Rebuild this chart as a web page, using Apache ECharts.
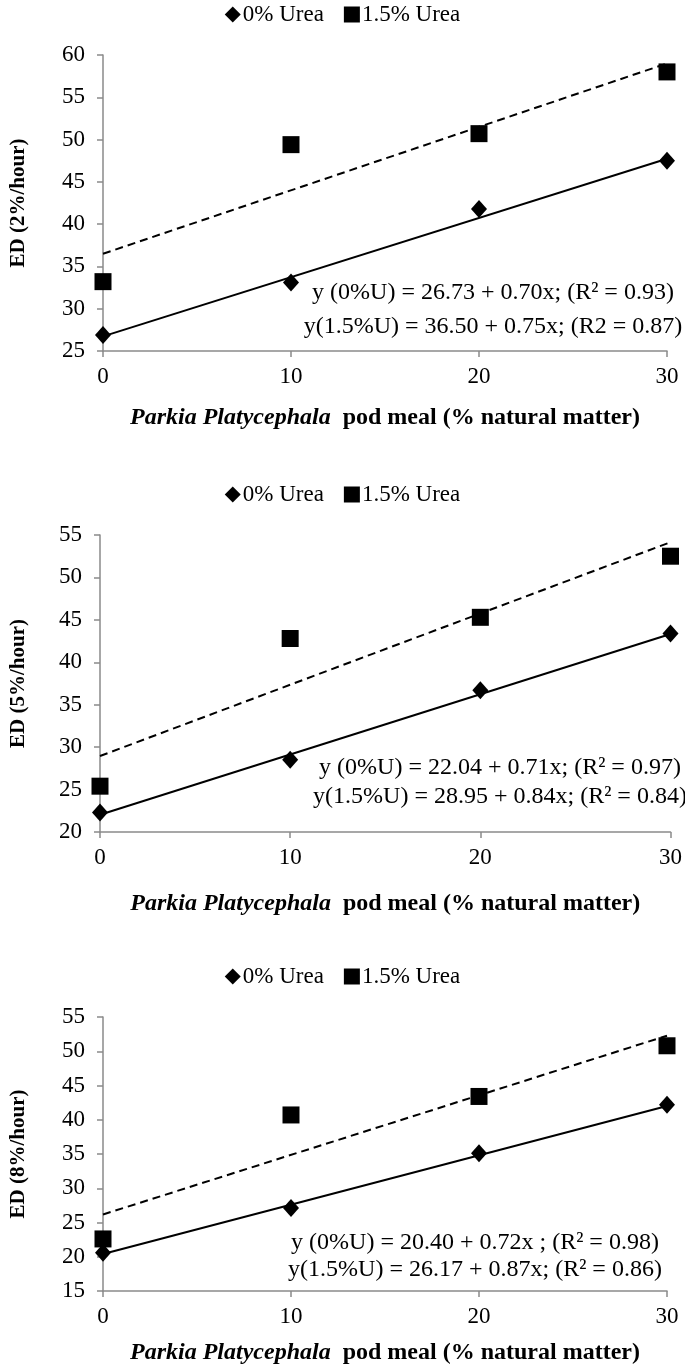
<!DOCTYPE html>
<html>
<head>
<meta charset="utf-8">
<script src="https://cdn.jsdelivr.net/npm/echarts@6/dist/echarts.min.js"></script>
<style>
  html, body { margin: 0; padding: 0; background: #fff; }
  #chart { width: 685px; height: 1367px; }
</style>
</head>
<body>
<div id="chart"></div>
<script>
// x values (% PPPM) shared by all three panels
const doses = [0, 10, 20, 30];

// ED at 2%/hour
const ed2_urea0 = [26.9, 33.1, 41.8, 47.5];
const ed2_urea15 = [33.2, 49.4, 50.7, 58.0];
// ED at 5%/hour
const ed5_urea0 = [22.3, 28.5, 36.7, 43.4];
const ed5_urea15 = [25.4, 42.8, 45.3, 52.5];
// ED at 8%/hour
const ed8_urea0 = [20.6, 27.1, 35.1, 42.2];
const ed8_urea15 = [22.6, 40.7, 43.4, 50.8];

// trend line end points (x = 0 and x = 30), from the printed equations
const fitEnds = [0, 30];
const fit2_urea0 = [26.73, 47.73];
const fit2_urea15 = [36.50, 59.00];
const fit5_urea0 = [22.04, 43.34];
const fit5_urea15 = [28.95, 54.15];
const fit8_urea0 = [20.40, 42.00];
const fit8_urea15 = [26.17, 52.27];

const yMins = [25, 20, 15];
const yMaxs = [60, 55, 55];
const yNames = ['ED (2%/hour)', 'ED (5%/hour)', 'ED (8%/hour)'];
const legendNames = ['0% Urea', '1.5% Urea'];
const equations = [
  ['y (0%U) = 26.73 + 0.70x; (R² = 0.93)', 'y(1.5%U) = 36.50 + 0.75x; (R2 = 0.87)'],
  ['y (0%U) = 22.04 + 0.71x; (R² = 0.97)', 'y(1.5%U) = 28.95 + 0.84x; (R² = 0.84)'],
  ['y (0%U) = 20.40 + 0.72x ; (R² = 0.98)', 'y(1.5%U) = 26.17 + 0.87x; (R² = 0.86)']
];

const FONT = '"Liberation Serif", "Times New Roman", serif';
const AXIS_GREY = '#8a8a8a';

const pts = (xs, ys) => xs.map((x, i) => [x, ys[i]]);

const panels = [
  { grid: { left: 85, right: 18, top: 55, height: 296 }, legendTop: -2, nameGap: 74, xNameGap: 55,
    u0: ed2_urea0, u15: ed2_urea15, f0: fit2_urea0, f15: fit2_urea15, eqX: 493, eqY: [293, 327] },
  { grid: { left: 81, right: 14, top: 535, height: 297 }, legendTop: 478, nameGap: 71, xNameGap: 60,
    u0: ed5_urea0, u15: ed5_urea15, f0: fit5_urea0, f15: fit5_urea15, eqX: 500, eqY: [768, 797] },
  { grid: { left: 86, right: 18, top: 1017, height: 274 }, legendTop: 960, nameGap: 74, xNameGap: 50,
    u0: ed8_urea0, u15: ed8_urea15, f0: fit8_urea0, f15: fit8_urea15, eqX: 475, eqY: [1243, 1270] }
];

const chart = echarts.init(document.getElementById('chart'), null, { renderer: 'canvas' });

const option = {
  backgroundColor: '#fff',
  animation: false,
  textStyle: { fontFamily: FONT, color: '#000' },
  grid: panels.map(p => p.grid),
  legend: panels.map(p => ({
    data: legendNames,
    top: p.legendTop,
    left: 'center',
    itemWidth: 16,
    itemHeight: 16,
    itemGap: 20,
    textStyle: { fontFamily: FONT, fontSize: 23, color: '#000', padding: [0, 0, 0, -3] }
  })),
  xAxis: panels.map((p, i) => ({
    gridIndex: i,
    type: 'value',
    min: 0,
    max: 30,
    interval: 10,
    name: '{i|Parkia Platycephala}  pod meal (% natural matter)',
    nameLocation: 'middle',
    nameGap: p.xNameGap,
    nameTextStyle: {
      fontFamily: FONT, fontSize: 24, fontWeight: 'bold', color: '#000',
      rich: { i: { fontFamily: FONT, fontSize: 24, fontWeight: 'bold', fontStyle: 'italic', color: '#000' } }
    },
    axisLine: { lineStyle: { color: AXIS_GREY, width: 1.5 } },
    axisTick: { show: true, length: 6, lineStyle: { color: AXIS_GREY, width: 1.5 } },
    axisLabel: { fontFamily: FONT, fontSize: 23, color: '#000', margin: 14 },
    splitLine: { show: false }
  })),
  yAxis: panels.map((p, i) => ({
    gridIndex: i,
    type: 'value',
    min: yMins[i],
    max: yMaxs[i],
    interval: 5,
    name: yNames[i],
    nameLocation: 'middle',
    nameRotate: 90,
    nameGap: p.nameGap,
    nameTextStyle: { fontFamily: FONT, fontSize: 21, fontWeight: 'bold', color: '#000' },
    axisLine: { show: true, lineStyle: { color: AXIS_GREY, width: 1.5 } },
    axisTick: { show: true, length: 6, lineStyle: { color: AXIS_GREY, width: 1.5 } },
    axisLabel: { fontFamily: FONT, fontSize: 23, color: '#000', margin: 18 },
    splitLine: { show: false }
  })),
  series: panels.flatMap((p, i) => [
    {
      name: 'fit0', type: 'line', xAxisIndex: i, yAxisIndex: i,
      data: pts(fitEnds, p.f0), symbol: 'none', silent: true,
      lineStyle: { color: '#000', width: 2, type: 'solid' }
    },
    {
      name: 'fit15', type: 'line', xAxisIndex: i, yAxisIndex: i,
      data: pts(fitEnds, p.f15), symbol: 'none', silent: true,
      lineStyle: { color: '#000', width: 2, type: [8, 5] }
    },
    {
      name: legendNames[0], type: 'scatter', xAxisIndex: i, yAxisIndex: i,
      data: pts(doses, p.u0), symbol: 'diamond', symbolSize: [16, 18],
      itemStyle: { color: '#000', opacity: 1 }
    },
    {
      name: legendNames[1], type: 'scatter', xAxisIndex: i, yAxisIndex: i,
      data: pts(doses, p.u15), symbol: 'rect', symbolSize: 17,
      itemStyle: { color: '#000', opacity: 1 }
    }
  ]),
  graphic: panels.flatMap((p, i) => equations[i].map((txt, k) => ({
    type: 'text',
    x: p.eqX,
    y: p.eqY[k],
    style: {
      text: txt,
      fontFamily: FONT,
      fontSize: 24,
      fill: '#000',
      align: 'center',
      verticalAlign: 'middle'
    },
    z: 10
  })))
};

chart.setOption(option);
</script>
</body>
</html>
